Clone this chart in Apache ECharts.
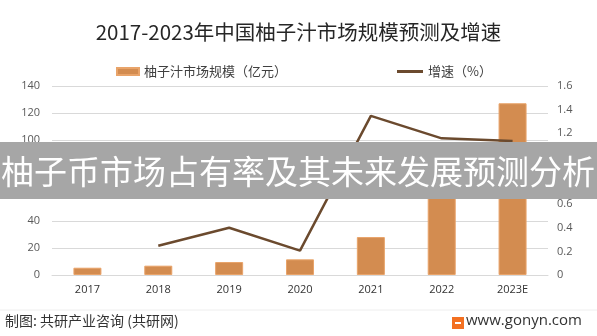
<!DOCTYPE html>
<html>
<head>
<meta charset="utf-8">
<script src="https://cdn.jsdelivr.net/npm/echarts@6/dist/echarts.min.js"></script>
<style>html,body{margin:0;padding:0;background:#fff}#c{width:597px;height:336px}</style>
</head>
<body>
<div id="c"></div>
<script>
const categories = ['2017','2018','2019','2020','2021','2022','2023E'];
const marketSize = [5.4, 6.9, 9.6, 11.6, 28.1, 60, 127.2];
const growthRate = [null, 0.248, 0.40, 0.206, 1.347, 1.157, 1.135];
const leftTicks = [0, 20, 40, 60, 80, 100, 120, 140];
const rightTicks = [0, 0.2, 0.4, 0.6, 0.8, 1.0, 1.2, 1.4, 1.6];
const barName = '柚子汁市场规模（亿元）';
const lineName = '增速（%）';
const titleText = '2017-2023年中国柚子汁市场规模预测及增速';
const bannerText = '柚子币市场占有率及其未来发展预测分析';
const footerLeft = '制图: 共研产业咨询 (共研网)';
const footerRight = 'www.gonyn.com';

const FONT = '"Noto Sans CJK SC","Noto Sans",sans-serif';
const chart = echarts.init(document.getElementById('c'), null, {renderer: 'canvas'});
chart.setOption({
  animation: false,
  textStyle: {fontFamily: FONT},
  title: {
    text: titleText, left: 'center', top: 17,
    textStyle: {fontSize: 20.5, fontWeight: 'normal', color: '#262626', fontFamily: FONT}
  },
  legend: [
    {data: [barName], left: 111, top: 60, itemWidth: 22, itemHeight: 7, icon: 'rect', itemGap: 6,
     textStyle: {fontSize: 13, color: '#404040'}},
    {data: [lineName], left: 392, top: 60, itemWidth: 26, itemHeight: 3, icon: 'rect', itemGap: 5,
     textStyle: {fontSize: 13, color: '#404040'}}
  ],
  grid: {left: 52, right: 49, top: 86, bottom: 61},
  xAxis: {
    type: 'category', data: categories,
    axisLine: {lineStyle: {color: '#d9d9d9'}},
    axisTick: {show: false},
    axisLabel: {color: '#333', fontSize: 11, margin: 9, fontFamily: '"Open Sans",sans-serif'}
  },
  yAxis: [
    {type: 'value', min: leftTicks[0], max: leftTicks[leftTicks.length-1], interval: 20,
     axisLine: {show: false}, axisTick: {show: false},
     splitLine: {lineStyle: {color: '#d9d9d9'}},
     axisLabel: {color: '#595959', fontSize: 11, margin: 12, fontFamily: '"Open Sans",sans-serif'}},
    {type: 'value', min: rightTicks[0], max: rightTicks[rightTicks.length-1], interval: 0.2,
     axisLine: {show: false}, axisTick: {show: false}, splitLine: {show: false},
     axisLabel: {color: '#595959', fontSize: 11, margin: 9, fontFamily: '"Open Sans",sans-serif',
       formatter: v => v === 0 ? '0' : v.toFixed(1)}}
  ],
  series: [
    {name: barName, type: 'bar', data: marketSize, barWidth: 28,
     itemStyle: {color: '#D38C50', borderColor: '#E9A46A', borderWidth: 1}},
    {name: lineName, type: 'line', yAxisIndex: 1, data: growthRate, symbol: 'none',
     lineStyle: {color: '#6B4A2E', width: 2.5}, itemStyle: {color: '#6B4A2E'}}
  ],
  graphic: [
    {type: 'line', shape: {x1: 0, y1: 310, x2: 597, y2: 310}, style: {stroke: '#eeeeee', lineWidth: 1}},
    {type: 'text', left: 5, top: 314, style: {text: footerLeft, fontSize: 14, fill: '#333', fontFamily: FONT}},
    {type: 'rect', shape: {x: 452, y: 317, width: 12, height: 12}, style: {fill: '#F37021'}},
    {type: 'rect', shape: {x: 455, y: 322, width: 6, height: 2}, style: {fill: '#ffffff'}},
    {type: 'text', left: 466, top: 313, style: {text: footerRight, fontSize: 15, fill: '#333', fontFamily: '"Open Sans",sans-serif'}},
    {type: 'rect', z: 100, shape: {x: 0, y: 142, width: 597, height: 57}, style: {fill: '#a6a6a6'}},
    {type: 'text', z: 101, x: 298, y: 171, style: {text: bannerText, fontSize: 33, fill: '#ffffff',
      textAlign: 'center', textVerticalAlign: 'middle', fontFamily: FONT}}
  ]
});
</script>
</body>
</html>
